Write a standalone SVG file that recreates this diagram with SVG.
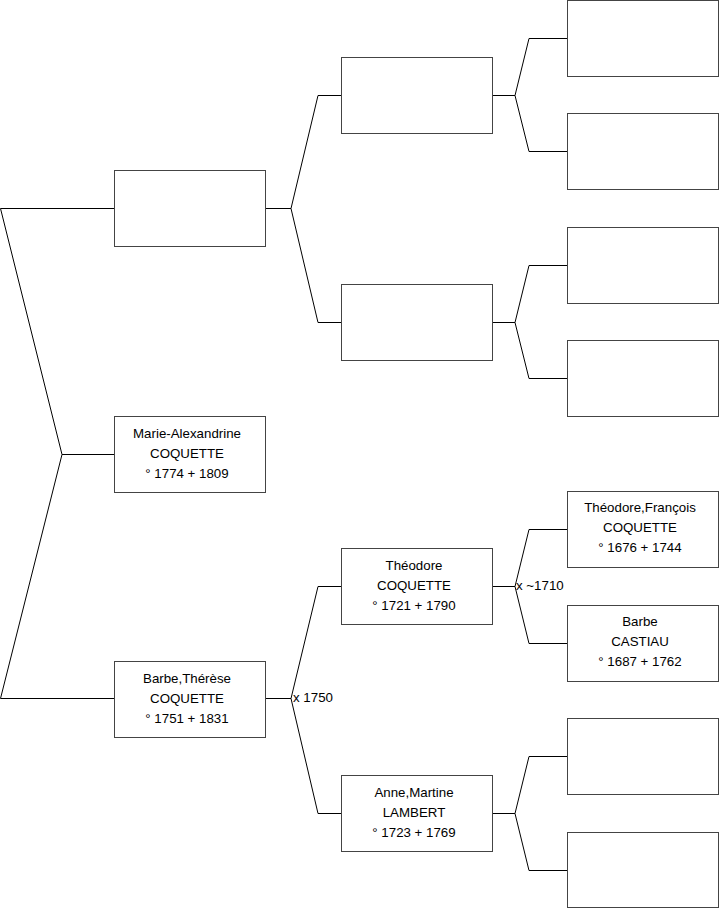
<svg xmlns="http://www.w3.org/2000/svg" width="719" height="908" viewBox="0 0 719 908">
<style>
.box{fill:#fff;stroke:#444;stroke-width:1}
.c{fill:none;stroke:#000;stroke-width:1}
text{font-family:"Liberation Sans",Arial,sans-serif;font-size:13.3px;fill:#000}
.t{text-anchor:middle}
</style>
<rect width="719" height="908" fill="#fff"/>
<g id="connectors">
<path class="c" d="M114,208.5H0.5L62,454.5L0.5,698.5H114M62,454.5H114"/>
<path class="c" d="M265,208.5H291L318,95.5H341M291,208.5L318,322.5H341"/>
<path class="c" d="M492,95.5H515L529,38.5H567M515,95.5L529,151.5H567"/>
<path class="c" d="M492,322.5H515L529,265.5H567M515,322.5L529,378.5H567"/>
<path class="c" d="M265,698.5H291L318,586.5H341M291,698.5L318,813.5H341"/>
<path class="c" d="M492,586.5H515L529,529.5H567M515,586.5L529,643.5H567"/>
<path class="c" d="M492,813.5H515L529,756.5H567M515,813.5L529,870.5H567"/>
<text x="293" y="702">x 1750</text>
<text x="516" y="590">x ~1710</text>
</g>
<g id="n1"><rect class="box" x="114.5" y="170.5" width="151" height="76"/></g>
<g id="n2"><rect class="box" x="114.5" y="416.5" width="151" height="76"/>
<text class="t" x="187" y="438">Marie-Alexandrine</text><text class="t" x="187" y="458">COQUETTE</text><text class="t" x="187" y="478">° 1774 + 1809</text></g>
<g id="n3"><rect class="box" x="114.5" y="661.5" width="151" height="76"/>
<text class="t" x="187" y="683">Barbe,Thérèse</text><text class="t" x="187" y="703">COQUETTE</text><text class="t" x="187" y="723">° 1751 + 1831</text></g>
<g id="n4"><rect class="box" x="341.5" y="57.5" width="151" height="76"/></g>
<g id="n5"><rect class="box" x="341.5" y="284.5" width="151" height="76"/></g>
<g id="n6"><rect class="box" x="341.5" y="548.5" width="151" height="76"/>
<text class="t" x="414" y="570">Théodore</text><text class="t" x="414" y="590">COQUETTE</text><text class="t" x="414" y="610">° 1721 + 1790</text></g>
<g id="n7"><rect class="box" x="341.5" y="775.5" width="151" height="76"/>
<text class="t" x="414" y="797">Anne,Martine</text><text class="t" x="414" y="817">LAMBERT</text><text class="t" x="414" y="837">° 1723 + 1769</text></g>
<g id="n8"><rect class="box" x="567.5" y="0.5" width="151" height="76"/></g>
<g id="n9"><rect class="box" x="567.5" y="113.5" width="151" height="76"/></g>
<g id="n10"><rect class="box" x="567.5" y="227.5" width="151" height="76"/></g>
<g id="n11"><rect class="box" x="567.5" y="340.5" width="151" height="76"/></g>
<g id="n12"><rect class="box" x="567.5" y="491.5" width="151" height="76"/>
<text class="t" x="640" y="512">Théodore,François</text><text class="t" x="640" y="532">COQUETTE</text><text class="t" x="640" y="552">° 1676 + 1744</text></g>
<g id="n13"><rect class="box" x="567.5" y="605.5" width="151" height="76"/>
<text class="t" x="640" y="626">Barbe</text><text class="t" x="640" y="646">CASTIAU</text><text class="t" x="640" y="666">° 1687 + 1762</text></g>
<g id="n14"><rect class="box" x="567.5" y="718.5" width="151" height="76"/></g>
<g id="n15"><rect class="box" x="567.5" y="832.5" width="151" height="75"/></g>
</svg>
